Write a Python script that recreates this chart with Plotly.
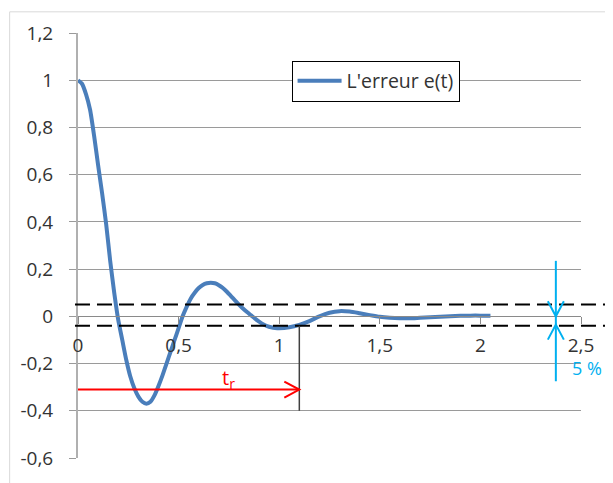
import plotly.graph_objects as go

# ---- data ----
t = [0, 0.02, 0.04, 0.06, 0.08, 0.10, 0.12, 0.14, 0.16, 0.18, 0.20, 0.22, 0.24, 0.26,
     0.28, 0.30, 0.32, 0.34, 0.36, 0.38, 0.40, 0.42, 0.44, 0.46, 0.48, 0.50, 0.52, 0.54,
     0.56, 0.58, 0.60, 0.62, 0.64, 0.66, 0.68, 0.70, 0.72, 0.74, 0.76, 0.78, 0.80, 0.82,
     0.84, 0.86, 0.88, 0.90, 0.92, 0.94, 0.96, 0.98, 1.00, 1.05, 1.10, 1.15, 1.20, 1.25,
     1.30, 1.35, 1.40, 1.45, 1.50, 1.55, 1.60, 1.65, 1.70, 1.75, 1.80, 1.85, 1.90, 1.95,
     2.00, 2.05]
e = [1.0, 0.985, 0.94, 0.875, 0.765, 0.64, 0.52, 0.39, 0.235, 0.10, -0.015, -0.10, -0.185,
     -0.255, -0.305, -0.34, -0.362, -0.37, -0.362, -0.335, -0.295, -0.25, -0.20, -0.15,
     -0.10, -0.05, 0.0, 0.04, 0.075, 0.10, 0.12, 0.133, 0.14, 0.142, 0.14, 0.132, 0.12,
     0.104, 0.086, 0.068, 0.05, 0.033, 0.018, 0.004, -0.01, -0.022, -0.033, -0.041, -0.046,
     -0.049, -0.05, -0.046, -0.036, -0.02, 0.0, 0.015, 0.022, 0.02, 0.013, 0.005, -0.002,
     -0.006, -0.008, -0.008, -0.006, -0.004, -0.002, 0.0, 0.002, 0.003, 0.003, 0.003]
series_name = "L'erreur e(t)"

x_range = [0, 2.5]
y_range = [-0.6, 1.2]
x_tick_vals = [0, 0.5, 1, 1.5, 2, 2.5]
x_tick_text = ["0", "0,5", "1", "1,5", "2", "2,5"]
y_tick_vals = [-0.6, -0.4, -0.2, 0, 0.2, 0.4, 0.6, 0.8, 1.0, 1.2]
y_tick_text = ["-0,6", "-0,4", "-0,2", "0", "0,2", "0,4", "0,6", "0,8", "1", "1,2"]

band_upper = 0.05
band_lower = -0.04
tr_value = 1.1
tr_arrow_y = -0.31
tr_line_bottom = -0.4
band_marker_x = 2.375
band_marker_top = 0.235
band_marker_bottom = -0.275
down_arrow_tip = 0.0
up_arrow_tip = -0.035

FONT = "Open Sans"
TXT = "#333333"
GRID = "#9a9a9a"
BLUE = "#4a7ebb"
CYAN = "#00b0f0"
RED = "#ff0000"

fig = go.Figure()
fig.add_trace(go.Scatter(
    x=t, y=e, mode="lines", name=series_name,
    line=dict(color=BLUE, width=4, shape="spline", smoothing=0.6),
))

x_axis_pos = (0 - y_range[0]) / (y_range[1] - y_range[0])

# the page body has an 8px margin, so the figure is 8px smaller than the window
fig.update_layout(
    width=605, height=475,
    margin=dict(l=69, r=32, t=22, b=21),
    paper_bgcolor="white", plot_bgcolor="white",
    font=dict(family=FONT, size=19, color=TXT),
    showlegend=True,
    legend=dict(
        x=0.4246, y=0.935, xanchor="left", yanchor="top",
        bordercolor="black", borderwidth=1, bgcolor="white",
        font=dict(family=FONT, size=19.5, color=TXT),
        itemwidth=44,
    ),
    xaxis=dict(
        range=x_range, anchor="free", position=x_axis_pos,
        tickvals=x_tick_vals, ticktext=x_tick_text,
        showgrid=False, zeroline=False,
        showline=True, linecolor="#8a8a8a", linewidth=1,
        ticks="outside", ticklen=7, tickcolor="#8a8a8a",
        ticklabelstandoff=5,
    ),
    yaxis=dict(
        range=y_range, anchor="x",
        tickvals=y_tick_vals, ticktext=y_tick_text,
        showgrid=True, gridcolor=GRID, gridwidth=1, zeroline=False,
        showline=True, linecolor="#b0b0b0", linewidth=2,
        ticks="outside", ticklen=7, tickcolor=GRID,
        ticklabelstandoff=12,
    ),
)

# outer chart frame (top and left edges)
fig.add_shape(type="line", xref="paper", yref="paper", x0=-0.1359, x1=1.2, y0=1.0498, y1=1.0498,
              line=dict(color="#d9d9d9", width=1))
fig.add_shape(type="line", xref="paper", yref="paper", x0=-0.1359, x1=-0.1359, y0=1.0498, y1=-0.1,
              line=dict(color="#d9d9d9", width=1))

# tolerance band dashed lines
for yv in (band_upper, band_lower):
    fig.add_shape(type="line", xref="paper", yref="y", x0=-0.006, x1=1.1, y0=yv, y1=yv,
                  line=dict(color="black", width=2, dash="15px,7px"), layer="above")

# t_r vertical marker
fig.add_shape(type="line", xref="x", yref="y", x0=tr_value, x1=tr_value,
              y0=band_lower, y1=tr_line_bottom, line=dict(color="#404040", width=1.5))

# red t_r arrow: shaft + open head
fig.add_shape(type="line", xref="x", yref="y", x0=0, x1=tr_value, y0=tr_arrow_y, y1=tr_arrow_y,
              line=dict(color=RED, width=2), layer="above")
fig.add_shape(type="path", xref="x", yref="y", xsizemode="pixel", ysizemode="pixel",
              xanchor=tr_value, yanchor=tr_arrow_y, path="M-15,-8 L0,0 L-15,8",
              line=dict(color=RED, width=2), layer="above")

# cyan 5 % marker: shaft + two open heads
fig.add_shape(type="line", xref="x", yref="y", x0=band_marker_x, x1=band_marker_x,
              y0=band_marker_top, y1=band_marker_bottom, line=dict(color=CYAN, width=2),
              layer="above")
fig.add_shape(type="path", xref="x", yref="y", xsizemode="pixel", ysizemode="pixel",
              xanchor=band_marker_x, yanchor=down_arrow_tip, path="M-8,15 L0,0 L8,15",
              line=dict(color=CYAN, width=2), layer="above")
fig.add_shape(type="path", xref="x", yref="y", xsizemode="pixel", ysizemode="pixel",
              xanchor=band_marker_x, yanchor=up_arrow_tip, path="M-8,-15 L0,0 L8,-15",
              line=dict(color=CYAN, width=2), layer="above")

# labels
fig.add_annotation(x=0.75, y=-0.262, xref="x", yref="y", text="t<sub>r</sub>",
                   showarrow=False, font=dict(family=FONT, size=20, color=RED))
fig.add_annotation(x=1.012, y=-0.22, xref="paper", yref="y", xanchor="center", text="5 %",
                   showarrow=False, font=dict(family=FONT, size=18, color=CYAN))

fig.write_html("out.html")
